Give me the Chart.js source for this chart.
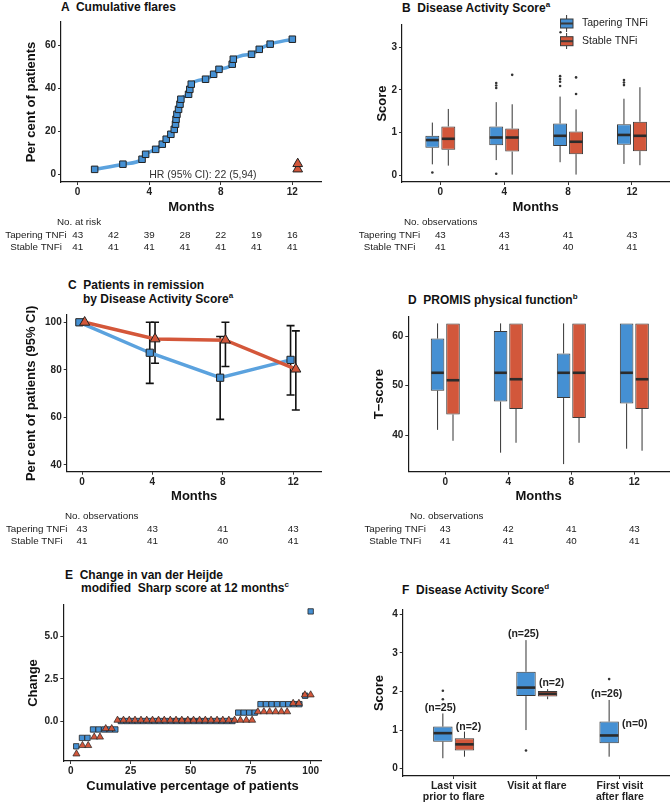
<!DOCTYPE html>
<html lang="en">
<head>
<meta charset="UTF-8">
<title>Tapering vs stable TNFi</title>
<style>
  body { margin: 0; background: #fff; font-family: 'Liberation Sans', Arial, sans-serif; color: #1a1a1a; }
  #page { position: relative; width: 672px; height: 807px; overflow: hidden; background: #fff; }
  canvas { position: absolute; }
  .ttl { position: absolute; font-weight: bold; font-size: 12px; line-height: 14px; white-space: pre; color: #111; }
  .ttl sup { font-size: 8px; vertical-align: 0; position: relative; top: -5px; }
</style>
</head>
<body>
<div id="page">
  <div class="ttl" style="left:61px;top:0px">A  Cumulative flares</div>
  <div class="ttl" style="left:402px;top:1px">B  Disease Activity Score<sup>a</sup></div>
  <div class="ttl" style="left:68px;top:278px">C  Patients in remission</div>
  <div class="ttl" style="left:83px;top:292px">by Disease Activity Score<sup>a</sup></div>
  <div class="ttl" style="left:408px;top:293px">D  PROMIS physical function<sup>b</sup></div>
  <div class="ttl" style="left:65px;top:568px">E  Change in van der Heijde</div>
  <div class="ttl" style="left:81px;top:581px">modified  Sharp score at 12 months<sup>c</sup></div>
  <div class="ttl" style="left:402px;top:583px">F  Disease Activity Score<sup>d</sup></div>

  <canvas id="chartA" width="336" height="258" style="left:0;top:0"></canvas>
  <canvas id="chartB" width="336" height="258" style="left:336px;top:0"></canvas>
  <canvas id="chartC" width="336" height="250" style="left:0;top:300px"></canvas>
  <canvas id="chartD" width="336" height="250" style="left:336px;top:300px"></canvas>
  <canvas id="chartE" width="336" height="212" style="left:0;top:595px"></canvas>
  <canvas id="chartF" width="336" height="207" style="left:336px;top:600px"></canvas>
</div>

<script src="https://cdn.jsdelivr.net/npm/chart.js@4"></script>
<script>
// ---------- data ----------
// A: cumulative flares (per cent of patients)
const aTaperMonths = [0.95, 2.53, 3.6, 3.8, 4.36, 4.73, 4.95, 5.21, 5.4, 5.47, 5.5, 5.55, 5.64, 5.72, 5.77, 6.2, 6.27, 6.35, 7.15, 7.6, 7.9, 8.64, 8.7, 9.72, 10.15, 10.76, 12.0];
const aTaperPct = [2.3, 4.7, 7.0, 9.3, 11.6, 14.0, 16.3, 18.6, 20.9, 23.3, 25.6, 27.9, 30.2, 32.6, 34.9, 37.2, 39.5, 41.9, 44.2, 46.5, 48.8, 51.2, 53.5, 55.8, 58.1, 60.5, 62.8];
const aStableMonths = [12.3, 12.3];
const aStablePct = [2.4, 4.9];
const aRiskMonths = [0, 2, 4, 6, 8, 10, 12];
const aRiskTaper = [43, 42, 39, 28, 22, 19, 16];
const aRiskStable = [41, 41, 41, 41, 41, 41, 41];

// B: disease activity score boxes [min, q1, median, q3, max]
const monthCats = ['0', '4', '8', '12'];
const bTaperBox = [[0.25, 0.64, 0.82, 0.92, 1.23], [0.35, 0.70, 0.88, 1.14, 1.71], [0.30, 0.68, 0.92, 1.21, 1.84], [0.26, 0.71, 0.94, 1.19, 1.79]];
const bTaperOut = [[0.06], [2.16, 2.10, 2.04, 0.03], [2.32, 2.25, 2.19, 2.09], [2.23, 2.17, 2.11]];
const bStableBox = [[0.22, 0.59, 0.85, 1.14, 1.55], [0.01, 0.55, 0.88, 1.09, 1.66], [0.01, 0.49, 0.78, 1.02, 1.54], [0.23, 0.56, 0.92, 1.25, 2.06]];
const bStableOut = [[], [2.35], [2.29, 1.90], []];
const bObsTaper = [43, 43, 41, 43];
const bObsStable = [41, 41, 40, 41];

// C: remission (per cent, 95% CI)
const cMonths = [0, 4, 8, 12];
const cTaperPct = [100, 87.2, 76.7, 84.2];
const cTaperLo = [null, 74.3, 59.2, 69.4];
const cTaperHi = [null, 100, 94.0, 98.6];
const cStablePct = [100, 93.0, 92.5, 80.3];
const cStableLo = [null, 82.8, 81.4, 63.1];
const cStableHi = [null, 100, 100, 96.4];
const cObsTaper = [43, 43, 41, 43];
const cObsStable = [41, 41, 40, 41];

// D: PROMIS physical function T-score boxes
const dTaperBox = [[41.1, 49.0, 52.6, 59.5, 62.55], [36.5, 46.8, 52.6, 61.0, 62.55], [34.2, 47.5, 52.6, 56.5, 62.55], [37.3, 46.4, 52.6, 62.55, 62.55]];
const dStableBox = [[38.9, 44.2, 51.1, 62.55, 62.55], [38.5, 45.3, 51.3, 62.55, 62.55], [38.5, 43.5, 52.6, 62.55, 62.55], [36.9, 45.3, 51.3, 62.55, 62.55]];
const dObsTaper = [43, 42, 41, 43];
const dObsStable = [41, 41, 40, 41];

// E: change in mSASSS at 12 months
const eTaperX = [2.3, 4.7, 7.0, 9.3, 11.6, 14.0, 16.3, 18.6, 20.9, 23.3, 25.6, 27.9, 30.2, 32.6, 34.9, 37.2, 39.5, 41.9, 44.2, 46.5, 48.8, 51.2, 53.5, 55.8, 58.1, 60.5, 62.8, 65.1, 67.4, 69.8, 72.1, 74.4, 76.7, 79.1, 81.4, 83.7, 86.0, 88.4, 90.7, 93.0, 95.3, 97.7, 100];
const eTaperY = [-1.5, -1, -1, -0.5, -0.5, -0.5, -0.5, -0.5, 0, 0, 0, 0, 0, 0, 0, 0, 0, 0, 0, 0, 0, 0, 0, 0, 0, 0, 0, 0, 0, 0.5, 0.5, 0.5, 0.5, 1, 1, 1, 1, 1, 1, 1, 1, 1.5, 6.5];
const eStableX = [2.4, 4.9, 7.3, 9.8, 12.2, 14.6, 17.1, 19.5, 22.0, 24.4, 26.8, 29.3, 31.7, 34.1, 36.6, 39.0, 41.5, 43.9, 46.3, 48.8, 51.2, 53.7, 56.1, 58.5, 61.0, 63.4, 65.9, 68.3, 70.7, 73.2, 75.6, 78.0, 80.5, 82.9, 85.4, 87.8, 90.2, 92.7, 95.1, 97.6, 100];
const eStableY = [-1.95, -1.45, -1.45, -0.95, -0.95, -0.45, -0.45, 0.05, 0.05, 0.05, 0.05, 0.05, 0.05, 0.05, 0.05, 0.05, 0.05, 0.05, 0.05, 0.05, 0.05, 0.05, 0.05, 0.05, 0.05, 0.05, 0.05, 0.05, 0.05, 0.05, 0.05, 0.55, 0.55, 0.55, 0.55, 0.55, 0.55, 1.05, 1.05, 1.55, 1.55];

// F: disease activity score around flares
const fCats = [['Last visit', 'prior to flare'], 'Visit at flare', ['First visit', 'after flare']];
const fTaperBox = [[0.27, 0.70, 0.92, 1.09, 1.43], [1.00, 1.88, 2.10, 2.51, 3.33], [0.31, 0.66, 0.86, 1.22, 1.78]];
const fTaperOut = [[2.02, 1.80], [0.47], [2.32]];
const fStableBox = [[0.31, 0.47, 0.63, 0.79, 0.96], [1.80, 1.87, 1.94, 2.01, 2.06], null];
const fStableOut = [[], [], []];
const fTaperN = ['(n=25)', '(n=25)', '(n=26)'];
const fTaperNY = [1.58, 3.48, 1.94];
const fStableN = ['(n=2)', '(n=2)', '(n=0)'];
const fStableNY = [1.07, 2.21, 1.15];

// ---------- style ----------
const FONT = "'Liberation Sans', Arial, sans-serif";
const BLUE = '#4590d3';
const BLUE_LINE = '#5ba2de';
const RED = '#d2573b';
const RED_LINE = '#d4573a';
const INK = '#222';

Chart.defaults.font.family = FONT;
Chart.defaults.animation = false;
Chart.defaults.events = [];

function axis(o) {
  return {
    type: 'linear',
    min: o.min,
    max: o.max,
    bounds: 'data',
    offset: false,
    afterFit: s => { if (s.isHorizontal()) s.height = o.size; else s.width = o.size; },
    afterBuildTicks: s => { s.ticks = o.ticks.map(v => ({ value: v })); },
    ticks: {
      color: INK,
      font: { family: FONT, size: o.tickSize || 10, weight: 'bold', lineHeight: 1.05 },
      padding: o.tickPad == null ? 2 : o.tickPad,
      autoSkip: false,
      maxRotation: 0,
      callback: o.label || (v => v)
    },
    grid: { display: true, drawOnChartArea: false, drawTicks: true, tickLength: 3, color: '#333', lineWidth: 1, offset: false },
    border: { display: true, color: '#1a1a1a', width: 1.2 },
    title: {
      display: !!o.title,
      text: o.title,
      color: '#111',
      font: { family: FONT, size: 13, weight: 'bold' },
      padding: o.titlePad || 0
    }
  };
}

function baseOptions(pad, xAxis, yAxis) {
  return {
    responsive: false,
    devicePixelRatio: 1,
    layout: { padding: pad },
    plugins: { legend: { display: false }, tooltip: { enabled: false } },
    scales: { x: xAxis, y: yAxis }
  };
}

// risk / observation table under a panel, columns placed on the x scale
function tablePlugin(head, headX, labelX, ys, at, rows) {
  return {
    id: 'table',
    afterDraw(chart) {
      const ctx = chart.ctx;
      const x = chart.scales.x;
      ctx.save();
      ctx.font = '9.8px ' + FONT;
      ctx.fillStyle = INK;
      ctx.textBaseline = 'middle';
      ctx.textAlign = 'left';
      ctx.fillText(head, headX, ys[0]);
      ctx.textAlign = 'center';
      ctx.fillText('Tapering TNFi', labelX, ys[1]);
      ctx.fillText('Stable TNFi', labelX, ys[2]);
      at.forEach((v, i) => {
        const px = x.getPixelForValue(v);
        ctx.fillText(String(rows[0][i]), px, ys[1]);
        ctx.fillText(String(rows[1][i]), px, ys[2]);
      });
      ctx.restore();
    }
  };
}

// whiskers, medians and outliers on top of floating bars
function boxPlugin(sets) {
  return {
    id: 'boxes',
    beforeDatasetsDraw(chart) {
      const ctx = chart.ctx, y = chart.scales.y;
      ctx.save();
      ctx.strokeStyle = '#333';
      ctx.lineWidth = 1;
      sets.forEach((s, k) => {
        const meta = chart.getDatasetMeta(k);
        s.box.forEach((b, i) => {
          if (!b) return;
          const cx = meta.data[i].x;
          ctx.beginPath();
          ctx.moveTo(cx, y.getPixelForValue(b[0]));
          ctx.lineTo(cx, y.getPixelForValue(b[1]));
          ctx.moveTo(cx, y.getPixelForValue(b[3]));
          ctx.lineTo(cx, y.getPixelForValue(b[4]));
          ctx.stroke();
        });
      });
      ctx.restore();
    },
    afterDatasetsDraw(chart) {
      const ctx = chart.ctx, y = chart.scales.y;
      ctx.save();
      sets.forEach((s, k) => {
        const meta = chart.getDatasetMeta(k);
        s.box.forEach((b, i) => {
          if (!b) return;
          const el = meta.data[i];
          const py = y.getPixelForValue(b[2]);
          ctx.strokeStyle = '#2b2b2b';
          ctx.lineWidth = 2.6;
          ctx.beginPath();
          ctx.moveTo(el.x - el.width / 2 + 0.5, py);
          ctx.lineTo(el.x + el.width / 2 - 0.5, py);
          ctx.stroke();
          ctx.fillStyle = '#333';
          (s.out[i] || []).forEach(o => {
            ctx.beginPath();
            ctx.arc(el.x, y.getPixelForValue(o), 1.3, 0, Math.PI * 2);
            ctx.fill();
          });
        });
      });
      ctx.restore();
    }
  };
}

function boxDatasets(taper, stable, catPct, barPct) {
  const toBars = boxes => boxes.map((b, i) => ({ x: i, y: b ? [b[1], b[3]] : null }));
  const common = { borderColor: '#3a3a3a', borderWidth: 1, borderSkipped: false, categoryPercentage: catPct, barPercentage: barPct };
  return [
    Object.assign({ label: 'Tapering TNFi', data: toBars(taper), backgroundColor: BLUE }, common),
    Object.assign({ label: 'Stable TNFi', data: toBars(stable), backgroundColor: RED }, common)
  ];
}

// ---------- A ----------
new Chart(document.getElementById('chartA'), {
  type: 'line',
  data: {
    datasets: [
      {
        data: aTaperMonths.map((m, i) => ({ x: m, y: aTaperPct[i] })),
        borderColor: BLUE_LINE, borderWidth: 3.5, cubicInterpolationMode: 'monotone',
        pointStyle: 'rect', pointRadius: 4.6, pointBackgroundColor: BLUE, pointBorderColor: INK, pointBorderWidth: 1
      },
      {
        data: aStableMonths.map((m, i) => ({ x: m, y: aStablePct[i] })),
        showLine: false,
        pointStyle: 'triangle', pointRadius: 5.6, pointBackgroundColor: RED, pointBorderColor: INK, pointBorderWidth: 1
      }
    ]
  },
  options: baseOptions(
    { top: 22, right: 14.3, bottom: 41, left: 0 },
    axis({ min: -0.93, max: 13.64, ticks: [0, 4, 8, 12], size: 35, title: 'Months', titlePad: { top: 0, bottom: 2 } }),
    axis({ min: -3.58, max: 70.8, ticks: [0, 20, 40, 60], size: 61, title: 'Per cent of patients', titlePad: { top: 24, bottom: 0 } })
  ),
  plugins: [
    tablePlugin('No. at risk', 57, 36, [222, 235, 247], aRiskMonths, [aRiskTaper, aRiskStable]),
    {
      id: 'hr',
      afterDatasetsDraw(chart) {
        const ctx = chart.ctx;
        ctx.save();
        ctx.font = '10.5px ' + FONT;
        ctx.fillStyle = '#333';
        ctx.textAlign = 'center';
        ctx.textBaseline = 'middle';
        ctx.fillText('HR (95% CI): 22 (5,94)', chart.scales.x.getPixelForValue(7.0), chart.scales.y.getPixelForValue(-0.3));
        ctx.restore();
      }
    }
  ]
});

// ---------- B ----------
new Chart(document.getElementById('chartB'), {
  type: 'bar',
  data: { datasets: boxDatasets(bTaperBox, bStableBox, 0.5, 0.875) },
  options: baseOptions(
    { top: 25, right: 3, bottom: 41, left: 0 },
    axis({ min: -0.6, max: 3.58, ticks: [0, 1, 2, 3], size: 35, title: 'Months', titlePad: { top: 0, bottom: 2 }, label: v => monthCats[v] }),
    axis({ min: -0.164, max: 3.52, ticks: [0, 1, 2, 3], size: 66, title: 'Score', titlePad: { top: 38.9, bottom: 0 } })
  ),
  plugins: [
    boxPlugin([{ box: bTaperBox, out: bTaperOut }, { box: bStableBox, out: bStableOut }]),
    tablePlugin('No. observations', 68, 53.5, [222, 235, 247], [0, 1, 2, 3], [bObsTaper, bObsStable]),
    {
      id: 'keys',
      afterDraw(chart) {
        const ctx = chart.ctx;
        const keys = [['Tapering TNFi', BLUE, 15, 19, 28, 32], ['Stable TNFi', RED, 33, 36.7, 45.7, 49]];
        ctx.save();
        keys.forEach(([txt, col, w0, b0, b1, w1]) => {
          ctx.strokeStyle = '#333';
          ctx.lineWidth = 1;
          ctx.beginPath();
          ctx.moveTo(230.6, w0); ctx.lineTo(230.6, b0);
          ctx.moveTo(230.6, b1); ctx.lineTo(230.6, w1);
          ctx.stroke();
          ctx.fillStyle = col;
          ctx.fillRect(224.5, b0, 12.5, b1 - b0);
          ctx.strokeStyle = '#3a3a3a';
          ctx.strokeRect(224.5, b0, 12.5, b1 - b0);
          ctx.lineWidth = 2;
          ctx.beginPath();
          ctx.moveTo(224.5, (b0 + b1) / 2); ctx.lineTo(237, (b0 + b1) / 2);
          ctx.stroke();
          ctx.fillStyle = INK;
          ctx.font = '10.5px ' + FONT;
          ctx.textAlign = 'left';
          ctx.textBaseline = 'middle';
          ctx.fillText(txt, 246, (b0 + b1) / 2);
        });
        ctx.fillStyle = '#333';
        ctx.beginPath();
        ctx.arc(224.5, 32.3, 1.2, 0, Math.PI * 2);
        ctx.fill();
        ctx.restore();
      }
    }
  ]
});

// ---------- C ----------
const cDodge = 0.15;
new Chart(document.getElementById('chartC'), {
  type: 'line',
  data: {
    datasets: [
      {
        order: 0,
        data: cMonths.map((m, i) => ({ x: m + cDodge, y: cStablePct[i] })),
        borderColor: RED_LINE, borderWidth: 3.5, tension: 0,
        pointStyle: 'triangle', pointRadius: 5.8, pointBackgroundColor: RED, pointBorderColor: INK, pointBorderWidth: 1
      },
      {
        order: 1,
        data: cMonths.map((m, i) => ({ x: m - cDodge, y: cTaperPct[i] })),
        borderColor: BLUE_LINE, borderWidth: 3.5, tension: 0,
        pointStyle: 'rect', pointRadius: 5.1, pointBackgroundColor: BLUE, pointBorderColor: INK, pointBorderWidth: 1
      }
    ]
  },
  options: baseOptions(
    { top: 15, right: 14.3, bottom: 43.3, left: 0 },
    axis({ min: -0.87, max: 13.62, ticks: [0, 4, 8, 12], size: 35, title: 'Months', titlePad: { top: 0, bottom: 2 } }),
    axis({ min: 37.18, max: 103.07, ticks: [40, 60, 80, 100], size: 66.7, title: 'Per cent of patients (95% CI)', titlePad: { top: 24, bottom: 0 } })
  ),
  plugins: [
    {
      id: 'errbars',
      beforeDatasetsDraw(chart) {
        const ctx = chart.ctx, x = chart.scales.x, y = chart.scales.y;
        const sets = [[cTaperLo, cTaperHi, -cDodge], [cStableLo, cStableHi, cDodge]];
        ctx.save();
        ctx.strokeStyle = '#111';
        ctx.lineWidth = 1.6;
        sets.forEach(([lo, hi, dx]) => {
          cMonths.forEach((m, i) => {
            if (lo[i] == null) return;
            const px = x.getPixelForValue(m + dx);
            const y0 = y.getPixelForValue(lo[i]);
            const y1 = y.getPixelForValue(hi[i]);
            ctx.beginPath();
            ctx.moveTo(px, y0); ctx.lineTo(px, y1);
            ctx.moveTo(px - 4, y0); ctx.lineTo(px + 4, y0);
            ctx.moveTo(px - 4, y1); ctx.lineTo(px + 4, y1);
            ctx.stroke();
          });
        });
        ctx.restore();
      }
    },
    tablePlugin('No. observations', 65, 36.7, [216.7, 229.3, 241.5], cMonths, [cObsTaper, cObsStable])
  ]
});

// ---------- D ----------
new Chart(document.getElementById('chartD'), {
  type: 'bar',
  data: { datasets: boxDatasets(dTaperBox, dStableBox, 0.49, 0.88) },
  options: baseOptions(
    { top: 16.7, right: 3, bottom: 43.3, left: 0 },
    axis({ min: -0.587, max: 3.55, ticks: [0, 1, 2, 3], size: 35, title: 'Months', titlePad: { top: 0, bottom: 2 }, label: v => monthCats[v] }),
    axis({ min: 32.67, max: 63.9, ticks: [40, 50, 60], size: 72.3, title: 'T\u2212score', titlePad: { top: 35.5, bottom: 0 } })
  ),
  plugins: [
    boxPlugin([{ box: dTaperBox, out: [] }, { box: dStableBox, out: [] }]),
    tablePlugin('No. observations', 74, 59.2, [216.7, 229.3, 241.5], [0, 1, 2, 3], [dObsTaper, dObsStable])
  ]
});

// ---------- E ----------
new Chart(document.getElementById('chartE'), {
  type: 'scatter',
  data: {
    datasets: [
      {
        order: 0,
        data: eStableX.map((v, i) => ({ x: v, y: eStableY[i] })),
        pointStyle: 'triangle', pointRadius: 4.1, pointBackgroundColor: RED, pointBorderColor: INK, pointBorderWidth: 0.7
      },
      {
        order: 1,
        data: eTaperX.map((v, i) => ({ x: v, y: eTaperY[i] })),
        pointStyle: 'rect', pointRadius: 3.8, pointBackgroundColor: BLUE, pointBorderColor: INK, pointBorderWidth: 0.8
      }
    ]
  },
  options: baseOptions(
    { top: 10, right: 14.3, bottom: 10, left: 0 },
    axis({ min: -3.08, max: 104.6, ticks: [0, 25, 50, 75, 100], size: 36, title: 'Cumulative percentage of patients', titlePad: { top: 0, bottom: 2.5 } }),
    axis({ min: -2.37, max: 6.88, ticks: [0, 2.5, 5], size: 63.3, title: 'Change', titlePad: { top: 25.5, bottom: 0 }, label: v => v.toFixed(1) })
  )
});

// ---------- F ----------
new Chart(document.getElementById('chartF'), {
  type: 'bar',
  data: { datasets: boxDatasets(fTaperBox, fStableBox, 0.52, 0.9) },
  options: baseOptions(
    { top: 10, right: 3, bottom: 0, left: 0 },
    axis({ min: -0.613, max: 2.59, ticks: [0, 1, 2], size: 31, tickSize: 10.5, tickPad: 1.5, label: v => fCats[v] }),
    axis({ min: -0.19, max: 4.11, ticks: [0, 1, 2, 3, 4], size: 66.7, title: 'Score', titlePad: { top: 35.5, bottom: 0 } })
  ),
  plugins: [
    boxPlugin([{ box: fTaperBox, out: fTaperOut }, { box: fStableBox, out: fStableOut }]),
    {
      id: 'nlabels',
      afterDatasetsDraw(chart) {
        const ctx = chart.ctx, x = chart.scales.x, y = chart.scales.y;
        const blueEl = chart.getDatasetMeta(0).data[0];
        const d = x.getPixelForValue(0) - blueEl.x;
        ctx.save();
        ctx.font = 'bold 10.5px ' + FONT;
        ctx.fillStyle = INK;
        ctx.textAlign = 'center';
        ctx.textBaseline = 'middle';
        fCats.forEach((c, i) => {
          const mid = x.getPixelForValue(i);
          ctx.fillText(fTaperN[i], mid - d - 2.5, y.getPixelForValue(fTaperNY[i]));
          ctx.fillText(fStableN[i], mid + d + 4, y.getPixelForValue(fStableNY[i]));
        });
        ctx.restore();
      }
    }
  ]
});
</script>
</body>
</html>
